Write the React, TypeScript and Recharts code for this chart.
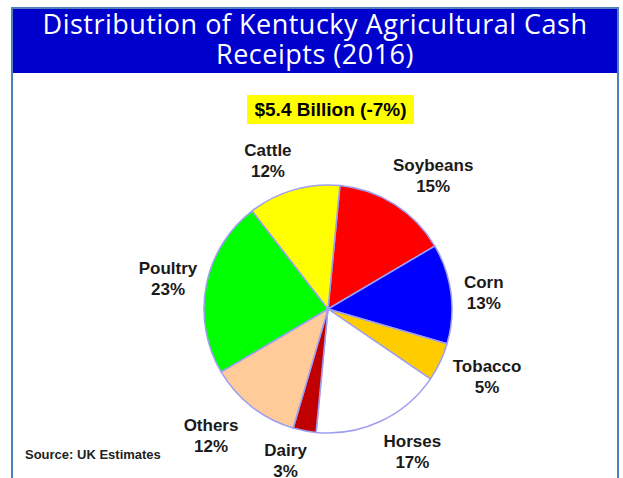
import React from "react";
import { PieChart, Pie, Cell } from "recharts";

// Categories clockwise from the top, their shares (%) and slice colours
const categories = ["Soybeans", "Corn", "Tobacco", "Horses", "Dairy", "Others", "Poultry", "Cattle"];
const shares = [15, 13, 5, 17, 3, 12, 23, 12];
const colors = ["#FF0000", "#0000FF", "#FFCC00", "#FFFFFF", "#C00000", "#FFCC99", "#00FF00", "#FFFF00"];

const data = categories.map((name, i) => ({ name, value: shares[i] }));

// Small hand nudges for the labels, like the moved labels in the original slide
const LABEL_NUDGE: Record<string, [number, number]> = {
  Cattle: [-14, 11],
  Soybeans: [16, 7],
  Corn: [-9, 4],
  Tobacco: [9, -3],
  Horses: [14, -8],
  Dairy: [-11, -12],
  Others: [-15, -4],
  Poultry: [3, 1],
};

const RADIAN = Math.PI / 180;
const LABEL_FONT = "'Liberation Sans', Arial, sans-serif";

/* Two-line label (name over percentage) placed out along the slice's middle angle */
function renderLabel(props: any) {
  const { cx, cy, midAngle, outerRadius, name, value } = props;
  const r = outerRadius + 42;
  const [dx, dy] = LABEL_NUDGE[name] || [0, 0];
  const x = cx + r * Math.cos(-midAngle * RADIAN) + dx;
  const y = cy + r * Math.sin(-midAngle * RADIAN) + dy;
  return (
    <text
      x={x}
      y={y}
      textAnchor="middle"
      fontFamily={LABEL_FONT}
      fontWeight="bold"
      fontSize={17}
      fill="#1a1a1a"
    >
      <tspan x={x} dy={-4.5}>{name}</tspan>
      <tspan x={x} dy={21}>{value}%</tspan>
    </text>
  );
}

export default function App() {
  return (
    <div style={{ position: "absolute", left: 0, top: 0, width: 623, height: 478, background: "#fff", overflow: "hidden" }}>
      {/* Frame with the blue title band */}
      <div
        style={{
          position: "absolute",
          left: 11,
          top: 7,
          width: 608,
          height: 490,
          border: "2px solid #4F81BD",
          boxSizing: "border-box",
        }}
      >
        <div
          style={{
            background: "#0000CC",
            height: 64,
            color: "#fff",
            fontFamily: "'Open Sans', sans-serif",
            fontSize: 27,
            letterSpacing: 0.5,
            lineHeight: "30px",
            textAlign: "center",
          }}
        >
          Distribution of Kentucky Agricultural Cash
          <br />
          Receipts (2016)
        </div>
      </div>

      {/* Highlighted total */}
      <div
        style={{
          position: "absolute",
          left: 247,
          top: 95,
          width: 167,
          height: 29,
          background: "#FFFF00",
          fontFamily: LABEL_FONT,
          fontWeight: "bold",
          fontSize: 19,
          lineHeight: "29px",
          textAlign: "center",
          color: "#000",
        }}
      >
        $5.4 Billion (-7%)
      </div>

      <div style={{ position: "absolute", left: 0, top: 0 }}>
        <PieChart width={623} height={478} margin={{ top: 0, right: 0, bottom: 0, left: 0 }}>
          <Pie
            data={data}
            dataKey="value"
            nameKey="name"
            cx={328}
            cy={309}
            outerRadius={124}
            startAngle={84.5}
            endAngle={-275.5}
            stroke="#9E9EF2"
            strokeWidth={1.5}
            label={renderLabel}
            labelLine={false}
            isAnimationActive={false}
          >
            {data.map((d, i) => (
              <Cell key={d.name} fill={colors[i]} />
            ))}
          </Pie>
        </PieChart>
      </div>

      <div
        style={{
          position: "absolute",
          left: 25,
          top: 447,
          fontFamily: LABEL_FONT,
          fontWeight: "bold",
          fontSize: 13,
          color: "#222",
        }}
      >
        Source: UK Estimates
      </div>
    </div>
  );
}
